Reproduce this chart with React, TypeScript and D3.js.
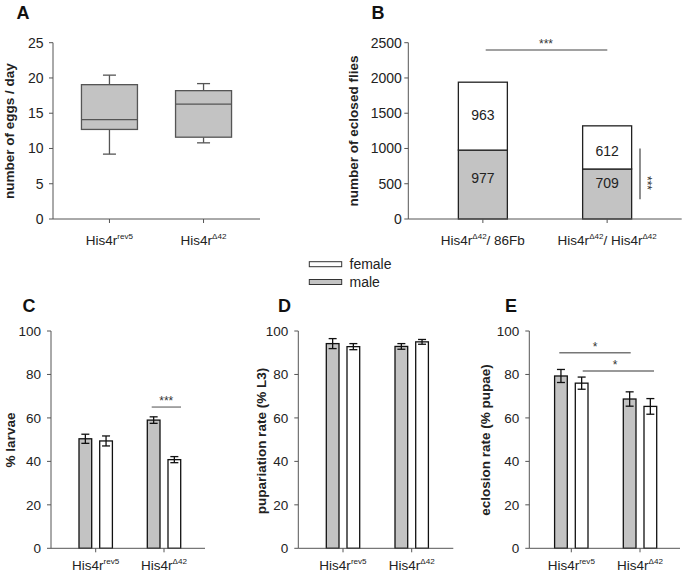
import React from "react";
import * as d3 from "d3";

// ---------- data ----------
const genotypeSup = ["rev5", "Δ42"];

// Panel A – box plot of eggs/day
const eggMin = [9.2, 10.8];
const eggQ1 = [12.7, 11.6];
const eggMedian = [14.1, 16.3];
const eggQ3 = [19.05, 18.2];
const eggMax = [20.4, 19.2];
const aTicks = [0, 5, 10, 15, 20, 25];

// Panel B – stacked eclosed flies
const bMale = [977, 709];
const bFemale = [963, 612];
const bTicks = [0, 500, 1000, 1500, 2000, 2500];

// Panel C – % larvae
const larvaeMale = [50.4, 59.0];
const larvaeMaleErr = [2.1, 1.5];
const larvaeFemale = [49.4, 40.8];
const larvaeFemaleErr = [2.3, 1.4];

// Panel D – pupariation rate
const pupMale = [94.2, 92.9];
const pupMaleErr = [2.3, 1.3];
const pupFemale = [92.8, 95.0];
const pupFemaleErr = [1.4, 1.1];

// Panel E – eclosion rate
const eclMale = [79.3, 68.7];
const eclMaleErr = [3.0, 3.3];
const eclFemale = [76.0, 65.3];
const eclFemaleErr = [2.8, 3.6];

const pctTicks = [0, 20, 40, 60, 80, 100];

const FONT = "'Liberation Sans', Arial, sans-serif";
const AXIS = "#555";
const GRAY = "#c3c3c3";

function Genotype({ x, y, sup, size = 13.5 }: { x: number; y: number; sup: string; size?: number }) {
  return (
    <text x={x} y={y} textAnchor="middle" fontFamily={FONT} fontSize={size} fill="#222">
      His4r
      <tspan fontSize={size * 0.6} dy={-size * 0.45}>{sup}</tspan>
    </text>
  );
}

function YAxis({ x, y, ticks, fontSize, gap = 9.5 }: { x: number; y: d3.ScaleLinear<number, number>; ticks: number[]; fontSize: number; gap?: number }) {
  const [r0, r1] = y.range();
  return (
    <g>
      <line x1={x} x2={x} y1={r0} y2={r1} stroke={AXIS} strokeWidth={1} />
      {ticks.map((t) => (
        <g key={t}>
          <line x1={x - 4} x2={x} y1={y(t)} y2={y(t)} stroke={AXIS} strokeWidth={1} />
          <text x={x - gap} y={y(t)} dy="0.35em" textAnchor="end" fontFamily={FONT} fontSize={fontSize} fill="#222">
            {t}
          </text>
        </g>
      ))}
    </g>
  );
}

function XAxis({ x0, x1, y, centers }: { x0: number; x1: number; y: number; centers: number[] }) {
  return (
    <g>
      <line x1={x0} x2={x1} y1={y} y2={y} stroke={AXIS} strokeWidth={1} />
      {centers.map((c, i) => (
        <line key={i} x1={c} x2={c} y1={y} y2={y + 4} stroke={AXIS} strokeWidth={1} />
      ))}
    </g>
  );
}

function YTitle({ x, y, text }: { x: number; y: number; text: string }) {
  return (
    <text transform={`translate(${x},${y}) rotate(-90)`} textAnchor="middle" dy="0.35em" fontFamily={FONT} fontWeight="bold" fontSize={13.5} fill="#222">
      {text}
    </text>
  );
}

function PanelLabel({ x, y, t }: { x: number; y: number; t: string }) {
  return (
    <text x={x} y={y} fontFamily={FONT} fontWeight="bold" fontSize={18} fill="#111">
      {t}
    </text>
  );
}

function ErrBar({ x, y, v, e }: { x: number; y: d3.ScaleLinear<number, number>; v: number; e: number }) {
  return (
    <g stroke="#111" strokeWidth={1.3}>
      <line x1={x} x2={x} y1={y(v + e)} y2={y(v - e)} />
      <line x1={x - 4} x2={x + 4} y1={y(v + e)} y2={y(v + e)} />
      <line x1={x - 4} x2={x + 4} y1={y(v - e)} y2={y(v - e)} />
    </g>
  );
}

function BarPanel({
  axisX, axisEnd, centers, male, maleErr, female, femaleErr,
}: {
  axisX: number; axisEnd: number; centers: number[];
  male: number[]; maleErr: number[]; female: number[]; femaleErr: number[];
}) {
  const y = d3.scaleLinear().domain([0, 100]).range([548.3, 331]);
  const x = d3.scalePoint<number>().domain([0, 1]).range([centers[0], centers[1]]);
  const bw = 12.7;
  const off = 4;
  return (
    <g>
      {male.map((v, i) => {
        const cx = x(i)!;
        return (
          <g key={"m" + i}>
            <rect x={cx - off - bw} y={y(v)} width={bw} height={y(0) - y(v)} fill={GRAY} stroke="#111" strokeWidth={1.3} />
            <ErrBar x={cx - off - bw / 2} y={y} v={v} e={maleErr[i]} />
          </g>
        );
      })}
      {female.map((v, i) => {
        const cx = x(i)!;
        return (
          <g key={"f" + i}>
            <rect x={cx + off} y={y(v)} width={bw} height={y(0) - y(v)} fill="#fff" stroke="#111" strokeWidth={1.3} />
            <ErrBar x={cx + off + bw / 2} y={y} v={v} e={femaleErr[i]} />
          </g>
        );
      })}
      <YAxis x={axisX} y={y} ticks={pctTicks} fontSize={13.5} gap={10} />
      <XAxis x0={axisX} x1={axisEnd} y={y(0)} centers={centers} />
      {centers.map((c, i) => (
        <Genotype key={i} x={c} y={570} sup={genotypeSup[i]} />
      ))}
    </g>
  );
}

export default function App() {
  // Panel A
  const ay = d3.scaleLinear().domain([0, 25]).range([219, 42.7]);
  const ax = d3.scalePoint<number>().domain([0, 1]).range([53, 260]).padding(0.6);
  const boxW = 56;

  // Panel B
  const by = d3.scaleLinear().domain([0, 2500]).range([219, 42.7]);
  const bx = d3.scalePoint<number>().domain([0, 1]).range([408.3, 681.7]).padding(0.6);
  const bw = 49;

  const yC = d3.scaleLinear().domain([0, 100]).range([548.3, 331]);

  return (
    <svg width={685} height={574} style={{ position: "absolute", left: 0, top: 0, background: "#fff" }}>
      <rect width={685} height={574} fill="#fff" />

      {/* ---------- Panel A ---------- */}
      <PanelLabel x={16.5} y={18.5} t="A" />
      {eggMedian.map((m, i) => {
        const cx = ax(i)!;
        return (
          <g key={i} stroke="#555" strokeWidth={1.3}>
            <line x1={cx} x2={cx} y1={ay(eggMax[i])} y2={ay(eggQ3[i])} />
            <line x1={cx} x2={cx} y1={ay(eggQ1[i])} y2={ay(eggMin[i])} />
            <line x1={cx - 6.5} x2={cx + 6.5} y1={ay(eggMax[i])} y2={ay(eggMax[i])} />
            <line x1={cx - 6.5} x2={cx + 6.5} y1={ay(eggMin[i])} y2={ay(eggMin[i])} />
            <rect x={cx - boxW / 2} y={ay(eggQ3[i])} width={boxW} height={ay(eggQ1[i]) - ay(eggQ3[i])} fill={GRAY} />
            <line x1={cx - boxW / 2} x2={cx + boxW / 2} y1={ay(m)} y2={ay(m)} />
          </g>
        );
      })}
      <YAxis x={53} y={ay} ticks={aTicks} fontSize={14} gap={9.5} />
      <XAxis x0={53} x1={260} y={219} centers={[ax(0)!, ax(1)!]} />
      {[0, 1].map((i) => (
        <Genotype key={i} x={ax(i)!} y={245} sup={genotypeSup[i]} />
      ))}
      <YTitle x={9.5} y={131} text="number of eggs / day" />

      {/* ---------- Panel B ---------- */}
      <PanelLabel x={371.5} y={18.5} t="B" />
      {bMale.map((m, i) => {
        const cx = bx(i)!;
        const f = bFemale[i];
        return (
          <g key={i}>
            <rect x={cx - bw / 2} y={by(m)} width={bw} height={by(0) - by(m)} fill={GRAY} stroke="#222" strokeWidth={1.3} />
            <rect x={cx - bw / 2} y={by(m + f)} width={bw} height={by(m) - by(m + f)} fill="#fff" stroke="#222" strokeWidth={1.3} />
            <text x={cx} y={(by(0) + by(m)) / 2 - (i === 0 ? 6 : 11)} dy="0.35em" textAnchor="middle" fontFamily={FONT} fontSize={14} fill="#222">{m}</text>
            <text x={cx} y={(by(m) + by(m + f)) / 2 + (i === 0 ? -1 : 4)} dy="0.35em" textAnchor="middle" fontFamily={FONT} fontSize={14} fill="#222">{f}</text>
          </g>
        );
      })}
      <YAxis x={408.3} y={by} ticks={bTicks} fontSize={14} gap={6.5} />
      <XAxis x0={408.3} x1={681.7} y={219} centers={[bx(0)!, bx(1)!]} />
      <text x={bx(0)!} y={245} textAnchor="middle" fontFamily={FONT} fontSize={13.5} fill="#222">
        His4r<tspan fontSize={8} dy={-6}>Δ42</tspan><tspan dy={6}>/ 86Fb</tspan>
      </text>
      <text x={bx(1)!} y={245} textAnchor="middle" fontFamily={FONT} fontSize={13.5} fill="#222">
        His4r<tspan fontSize={8} dy={-6}>Δ42</tspan><tspan dy={6}>/ His4r</tspan><tspan fontSize={8} dy={-6}>Δ42</tspan>
      </text>
      <YTitle x={353.5} y={131} text="number of eclosed flies" />
      {/* significance */}
      <line x1={485.7} x2={607.3} y1={50} y2={50} stroke="#444" strokeWidth={1.2} />
      <text x={546} y={48} textAnchor="middle" fontFamily={FONT} fontSize={12} fill="#333">***</text>
      <line x1={640} x2={640} y1={by(1000)} y2={by(280)} stroke="#444" strokeWidth={1.2} />
      <text transform={`translate(643,${by(510)}) rotate(90)`} textAnchor="middle" fontFamily={FONT} fontSize={12} fill="#333">***</text>

      {/* ---------- Legend ---------- */}
      <rect x={309.3} y={261.7} width={32.4} height={5} fill="#fff" stroke="#333" strokeWidth={1} />
      <text x={349.5} y={264.3} dy="0.35em" fontFamily={FONT} fontSize={14} fill="#222">female</text>
      <rect x={309.3} y={279.5} width={32.4} height={5} fill={GRAY} stroke="#333" strokeWidth={1} />
      <text x={349.5} y={282.5} dy="0.35em" fontFamily={FONT} fontSize={14} fill="#222">male</text>

      {/* ---------- Panel C ---------- */}
      <PanelLabel x={22.5} y={311.5} t="C" />
      <BarPanel axisX={51} axisEnd={205} centers={[95.7, 164]} male={larvaeMale} maleErr={larvaeMaleErr} female={larvaeFemale} femaleErr={larvaeFemaleErr} />
      <YTitle x={10} y={440} text="% larvae" />
      <line x1={151.7} x2={181} y1={yC(65)} y2={yC(65)} stroke="#777" strokeWidth={1.3} />
      <text x={166.3} y={yC(65) - 2} textAnchor="middle" fontFamily={FONT} fontSize={12} fill="#333">***</text>

      {/* ---------- Panel D ---------- */}
      <PanelLabel x={278} y={311.5} t="D" />
      <BarPanel axisX={298.3} axisEnd={453.3} centers={[343, 411.7]} male={pupMale} maleErr={pupMaleErr} female={pupFemale} femaleErr={pupFemaleErr} />
      <YTitle x={261.7} y={441} text="pupariation rate (% L3)" />

      {/* ---------- Panel E ---------- */}
      <PanelLabel x={505} y={311.5} t="E" />
      <BarPanel axisX={529.3} axisEnd={680} centers={[571.3, 640]} male={eclMale} maleErr={eclMaleErr} female={eclFemale} femaleErr={eclFemaleErr} />
      <YTitle x={485} y={440} text="eclosion rate (% pupae)" />
      <line x1={559.3} x2={630.7} y1={yC(90)} y2={yC(90)} stroke="#777" strokeWidth={1.3} />
      <text x={595} y={yC(90) - 2} textAnchor="middle" fontFamily={FONT} fontSize={12} fill="#333">*</text>
      <line x1={582.7} x2={654} y1={yC(81.6)} y2={yC(81.6)} stroke="#777" strokeWidth={1.3} />
      <text x={615} y={yC(81.6) - 2} textAnchor="middle" fontFamily={FONT} fontSize={12} fill="#333">*</text>
    </svg>
  );
}
